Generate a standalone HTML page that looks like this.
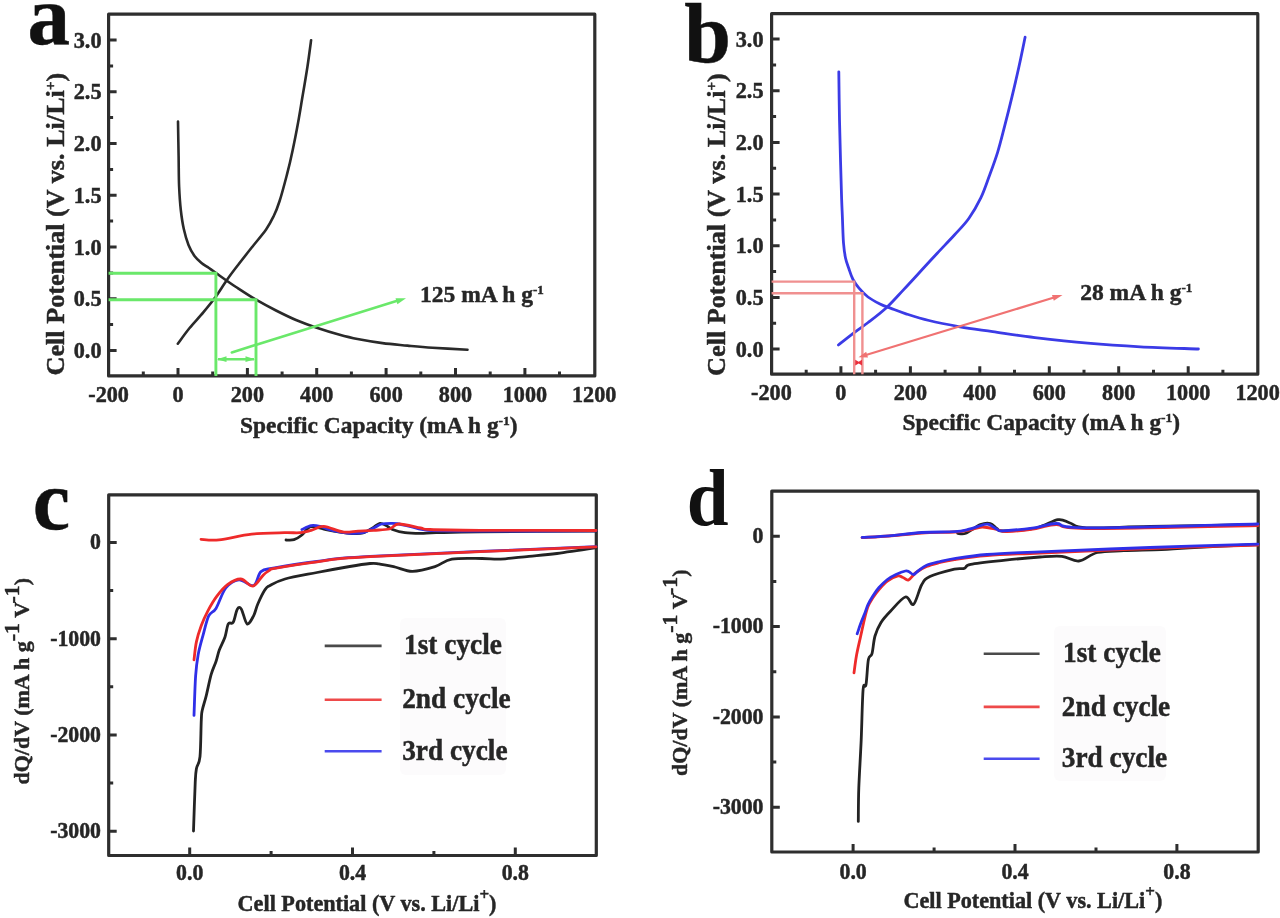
<!DOCTYPE html><html><head><meta charset="utf-8"><style>html,body{margin:0;padding:0;background:#fff;}svg{display:block;filter:blur(0.4px)}</style></head><body>
<svg width="1280" height="918" viewBox="0 0 1280 918">
<rect width="1280" height="918" fill="#fff"/>
<path d="M108.6,14.2 H594.8 V375.9 H108.6 Z" fill="none" stroke="#2e2e2e" stroke-width="3.2" stroke-linejoin="round"/>
<path d="M108.6,350.5 h8 M108.6,298.8 h8 M108.6,247.0 h8 M108.6,195.2 h8 M108.6,143.5 h8 M108.6,91.8 h8 M108.6,40.0 h8 M108.6,324.6 h4.5 M108.6,272.9 h4.5 M108.6,221.1 h4.5 M108.6,169.4 h4.5 M108.6,117.6 h4.5 M108.6,65.9 h4.5 " stroke="#2e2e2e" stroke-width="3"/>
<path d="M178.0,375.9 v-8 M247.4,375.9 v-8 M316.7,375.9 v-8 M386.1,375.9 v-8 M455.5,375.9 v-8 M524.9,375.9 v-8 M143.3,375.9 v-4.5 M212.7,375.9 v-4.5 M282.1,375.9 v-4.5 M351.4,375.9 v-4.5 M420.8,375.9 v-4.5 M490.2,375.9 v-4.5 M559.5,375.9 v-4.5 " stroke="#2e2e2e" stroke-width="3"/>
<text transform="translate(101.5,358.0) scale(1,1.06)" text-anchor="end" font-family="Liberation Serif" font-weight="bold" font-size="22.2" fill="#262626" stroke="#262626" stroke-width="0.45" >0.0</text>
<text transform="translate(101.5,306.2) scale(1,1.06)" text-anchor="end" font-family="Liberation Serif" font-weight="bold" font-size="22.2" fill="#262626" stroke="#262626" stroke-width="0.45" >0.5</text>
<text transform="translate(101.5,254.5) scale(1,1.06)" text-anchor="end" font-family="Liberation Serif" font-weight="bold" font-size="22.2" fill="#262626" stroke="#262626" stroke-width="0.45" >1.0</text>
<text transform="translate(101.5,202.8) scale(1,1.06)" text-anchor="end" font-family="Liberation Serif" font-weight="bold" font-size="22.2" fill="#262626" stroke="#262626" stroke-width="0.45" >1.5</text>
<text transform="translate(101.5,151.0) scale(1,1.06)" text-anchor="end" font-family="Liberation Serif" font-weight="bold" font-size="22.2" fill="#262626" stroke="#262626" stroke-width="0.45" >2.0</text>
<text transform="translate(101.5,99.2) scale(1,1.06)" text-anchor="end" font-family="Liberation Serif" font-weight="bold" font-size="22.2" fill="#262626" stroke="#262626" stroke-width="0.45" >2.5</text>
<text transform="translate(101.5,47.5) scale(1,1.06)" text-anchor="end" font-family="Liberation Serif" font-weight="bold" font-size="22.2" fill="#262626" stroke="#262626" stroke-width="0.45" >3.0</text>
<text transform="translate(108.6,401.5) scale(1,1.06)" text-anchor="middle" font-family="Liberation Serif" font-weight="bold" font-size="22.2" fill="#262626" stroke="#262626" stroke-width="0.45" >-200</text>
<text transform="translate(178.0,401.5) scale(1,1.06)" text-anchor="middle" font-family="Liberation Serif" font-weight="bold" font-size="22.2" fill="#262626" stroke="#262626" stroke-width="0.45" >0</text>
<text transform="translate(247.4,401.5) scale(1,1.06)" text-anchor="middle" font-family="Liberation Serif" font-weight="bold" font-size="22.2" fill="#262626" stroke="#262626" stroke-width="0.45" >200</text>
<text transform="translate(316.7,401.5) scale(1,1.06)" text-anchor="middle" font-family="Liberation Serif" font-weight="bold" font-size="22.2" fill="#262626" stroke="#262626" stroke-width="0.45" >400</text>
<text transform="translate(386.1,401.5) scale(1,1.06)" text-anchor="middle" font-family="Liberation Serif" font-weight="bold" font-size="22.2" fill="#262626" stroke="#262626" stroke-width="0.45" >600</text>
<text transform="translate(455.5,401.5) scale(1,1.06)" text-anchor="middle" font-family="Liberation Serif" font-weight="bold" font-size="22.2" fill="#262626" stroke="#262626" stroke-width="0.45" >800</text>
<text transform="translate(524.9,401.5) scale(1,1.06)" text-anchor="middle" font-family="Liberation Serif" font-weight="bold" font-size="22.2" fill="#262626" stroke="#262626" stroke-width="0.45" >1000</text>
<text transform="translate(594.2,401.5) scale(1,1.06)" text-anchor="middle" font-family="Liberation Serif" font-weight="bold" font-size="22.2" fill="#262626" stroke="#262626" stroke-width="0.45" >1200</text>
<text transform="translate(240.0,432.7) scale(1,1.0)" text-anchor="start" font-family="Liberation Serif" font-weight="bold" font-size="23.4" fill="#262626" stroke="#262626" stroke-width="0.45" >Specific Capacity (mA h g<tspan dy="-8" font-size="13.5">-1</tspan><tspan dy="8">)</tspan></text>
<g transform="translate(63.5,375.5) rotate(-90)"><text transform="translate(0.0,0.0) scale(1,1.0)" text-anchor="start" font-family="Liberation Serif" font-weight="bold" font-size="26.2" fill="#262626" stroke="#262626" stroke-width="0.45" >Cell Potential (V vs. Li/Li<tspan dy="-9" font-size="15">+</tspan><tspan dy="9">)</tspan></text></g>
<text transform="translate(27.5,43.8) scale(1,1.0)" text-anchor="start" font-family="Liberation Serif" font-weight="bold" font-size="85" fill="#111" stroke="#111" stroke-width="0.45" >a</text>
<path d="M178.0,121.5 C178.1,127.2 178.4,145.0 178.6,155.8 C178.8,166.6 178.7,177.3 179.1,186.3 C179.5,195.3 180.0,202.9 180.8,210.0 C181.6,217.1 182.5,223.2 183.8,229.0 C185.1,234.8 186.7,240.5 188.5,245.0 C190.3,249.5 192.3,253.0 194.5,256.0 C196.7,259.0 199.1,261.0 201.5,263.0 C203.9,265.0 206.6,266.3 209.0,268.0 C211.4,269.7 211.5,269.8 216.0,273.0 C220.5,276.2 229.3,282.6 236.0,287.0 C242.7,291.4 249.3,295.8 256.0,299.7 C262.7,303.6 269.3,307.1 276.0,310.5 C282.7,313.9 289.3,317.2 296.0,320.0 C302.7,322.8 308.9,325.1 316.0,327.5 C323.1,329.9 331.8,332.6 338.8,334.5 C345.7,336.4 350.2,337.6 357.5,339.0 C364.8,340.4 374.2,342.0 382.5,343.1 C390.8,344.2 399.2,344.8 407.5,345.6 C415.8,346.4 422.5,347.1 432.5,347.8 C442.5,348.4 461.7,349.4 467.5,349.8" fill="none" stroke="#2a2a2a" stroke-width="2.6" stroke-linecap="round"/>
<path d="M177.8,343.7 C179.8,341.1 185.3,333.2 189.6,328.0 C193.8,322.8 199.1,317.5 203.3,312.4 C207.6,307.3 211.2,303.0 215.1,297.6 C219.0,292.2 223.0,285.6 226.9,280.0 C230.8,274.4 234.3,269.9 238.6,264.3 C242.8,258.8 247.8,252.5 252.4,246.7 C257.0,240.9 262.6,234.5 266.1,229.5 C269.6,224.5 271.2,221.2 273.5,216.5 C275.8,211.8 277.4,208.0 279.6,201.0 C281.9,194.0 284.8,182.8 287.0,174.4 C289.2,166.0 290.8,159.0 292.6,150.4 C294.5,141.8 296.4,131.9 298.1,122.6 C299.8,113.3 301.2,104.1 302.8,94.8 C304.4,85.5 306.0,76.1 307.4,67.0 C308.8,57.9 310.5,44.7 311.1,40.2" fill="none" stroke="#2a2a2a" stroke-width="2.6" stroke-linecap="round"/>
<path d="M108.6,273.2 H215.9 V375.9 M108.6,299.7 H256 V375.9" fill="none" stroke="#6ae86a" stroke-width="2.9"/>
<path d="M218,359.2 H254" fill="none" stroke="#6ae86a" stroke-width="2.4"/>
<path d="M217,359.2 L226.5,356.3 L226.5,362.1 Z M255,359.2 L245.5,356.3 L245.5,362.1 Z" fill="#6ae86a"/>
<path d="M231.8,352.4 L398,300.5" fill="none" stroke="#6ae86a" stroke-width="2.6" stroke-linecap="round"/>
<path d="M406,298.3 L397.4,304.3 L395.5,298.2 Z" fill="#6ae86a"/>
<text transform="translate(420.0,302.0) scale(1,1.0)" text-anchor="start" font-family="Liberation Serif" font-weight="bold" font-size="23.5" fill="#262626" stroke="#262626" stroke-width="0.45" >125 mA h g<tspan dy="-8" font-size="13">-1</tspan></text>
<path d="M771.6,13.7 H1257.8 V374.2 H771.6 Z" fill="none" stroke="#2e2e2e" stroke-width="3.2" stroke-linejoin="round"/>
<path d="M771.6,349.0 h8 M771.6,297.4 h8 M771.6,245.7 h8 M771.6,194.1 h8 M771.6,142.4 h8 M771.6,90.8 h8 M771.6,39.1 h8 M771.6,323.2 h4.5 M771.6,271.5 h4.5 M771.6,219.9 h4.5 M771.6,168.2 h4.5 M771.6,116.6 h4.5 M771.6,64.9 h4.5 " stroke="#2e2e2e" stroke-width="3"/>
<path d="M840.9,374.2 v-8 M910.4,374.2 v-8 M979.8,374.2 v-8 M1049.3,374.2 v-8 M1118.7,374.2 v-8 M1188.2,374.2 v-8 M806.2,374.2 v-4.5 M875.6,374.2 v-4.5 M945.1,374.2 v-4.5 M1014.5,374.2 v-4.5 M1084.0,374.2 v-4.5 M1153.5,374.2 v-4.5 M1222.9,374.2 v-4.5 " stroke="#2e2e2e" stroke-width="3"/>
<text transform="translate(763.5,356.5) scale(1,1.06)" text-anchor="end" font-family="Liberation Serif" font-weight="bold" font-size="22.2" fill="#262626" stroke="#262626" stroke-width="0.45" >0.0</text>
<text transform="translate(763.5,304.9) scale(1,1.06)" text-anchor="end" font-family="Liberation Serif" font-weight="bold" font-size="22.2" fill="#262626" stroke="#262626" stroke-width="0.45" >0.5</text>
<text transform="translate(763.5,253.2) scale(1,1.06)" text-anchor="end" font-family="Liberation Serif" font-weight="bold" font-size="22.2" fill="#262626" stroke="#262626" stroke-width="0.45" >1.0</text>
<text transform="translate(763.5,201.6) scale(1,1.06)" text-anchor="end" font-family="Liberation Serif" font-weight="bold" font-size="22.2" fill="#262626" stroke="#262626" stroke-width="0.45" >1.5</text>
<text transform="translate(763.5,149.9) scale(1,1.06)" text-anchor="end" font-family="Liberation Serif" font-weight="bold" font-size="22.2" fill="#262626" stroke="#262626" stroke-width="0.45" >2.0</text>
<text transform="translate(763.5,98.2) scale(1,1.06)" text-anchor="end" font-family="Liberation Serif" font-weight="bold" font-size="22.2" fill="#262626" stroke="#262626" stroke-width="0.45" >2.5</text>
<text transform="translate(763.5,46.6) scale(1,1.06)" text-anchor="end" font-family="Liberation Serif" font-weight="bold" font-size="22.2" fill="#262626" stroke="#262626" stroke-width="0.45" >3.0</text>
<text transform="translate(771.4,400.0) scale(1,1.06)" text-anchor="middle" font-family="Liberation Serif" font-weight="bold" font-size="22.2" fill="#262626" stroke="#262626" stroke-width="0.45" >-200</text>
<text transform="translate(840.9,400.0) scale(1,1.06)" text-anchor="middle" font-family="Liberation Serif" font-weight="bold" font-size="22.2" fill="#262626" stroke="#262626" stroke-width="0.45" >0</text>
<text transform="translate(910.4,400.0) scale(1,1.06)" text-anchor="middle" font-family="Liberation Serif" font-weight="bold" font-size="22.2" fill="#262626" stroke="#262626" stroke-width="0.45" >200</text>
<text transform="translate(979.8,400.0) scale(1,1.06)" text-anchor="middle" font-family="Liberation Serif" font-weight="bold" font-size="22.2" fill="#262626" stroke="#262626" stroke-width="0.45" >400</text>
<text transform="translate(1049.3,400.0) scale(1,1.06)" text-anchor="middle" font-family="Liberation Serif" font-weight="bold" font-size="22.2" fill="#262626" stroke="#262626" stroke-width="0.45" >600</text>
<text transform="translate(1118.7,400.0) scale(1,1.06)" text-anchor="middle" font-family="Liberation Serif" font-weight="bold" font-size="22.2" fill="#262626" stroke="#262626" stroke-width="0.45" >800</text>
<text transform="translate(1188.2,400.0) scale(1,1.06)" text-anchor="middle" font-family="Liberation Serif" font-weight="bold" font-size="22.2" fill="#262626" stroke="#262626" stroke-width="0.45" >1000</text>
<text transform="translate(1257.6,400.0) scale(1,1.06)" text-anchor="middle" font-family="Liberation Serif" font-weight="bold" font-size="22.2" fill="#262626" stroke="#262626" stroke-width="0.45" >1200</text>
<text transform="translate(902.5,430.0) scale(1,1.0)" text-anchor="start" font-family="Liberation Serif" font-weight="bold" font-size="23.4" fill="#262626" stroke="#262626" stroke-width="0.45" >Specific Capacity (mA h g<tspan dy="-8" font-size="13.5">-1</tspan><tspan dy="8">)</tspan></text>
<g transform="translate(725,375.9) rotate(-90)"><text transform="translate(0.0,0.0) scale(1,1.0)" text-anchor="start" font-family="Liberation Serif" font-weight="bold" font-size="26.2" fill="#262626" stroke="#262626" stroke-width="0.45" >Cell Potential (V vs. Li/Li<tspan dy="-9" font-size="15">+</tspan><tspan dy="9">)</tspan></text></g>
<text transform="translate(684.2,61.5) scale(1,1.0)" text-anchor="start" font-family="Liberation Serif" font-weight="bold" font-size="84" fill="#111" stroke="#111" stroke-width="0.45" >b</text>
<path d="M838.8,71.8 C838.9,79.8 839.2,105.3 839.5,120.0 C839.8,134.7 840.2,147.5 840.5,160.0 C840.8,172.5 841.2,185.0 841.5,195.0 C841.8,205.0 842.2,212.0 842.5,220.0 C842.8,228.0 843.0,236.7 843.5,243.0 C844.0,249.3 844.6,253.7 845.5,258.0 C846.4,262.3 847.8,265.4 849.0,269.0 C850.2,272.6 851.3,276.3 853.0,279.5 C854.7,282.7 856.5,285.3 859.0,288.2 C861.5,291.1 864.5,294.4 868.0,297.0 C871.5,299.6 876.2,302.1 880.0,304.0 C883.8,305.9 886.7,306.8 891.0,308.4 C895.3,310.0 899.7,311.8 906.0,313.8 C912.3,315.8 920.0,318.3 929.0,320.5 C938.0,322.7 949.4,324.9 960.0,326.8 C970.6,328.7 980.2,329.8 992.7,331.6 C1005.2,333.4 1019.1,335.7 1034.9,337.6 C1050.7,339.5 1070.1,341.7 1087.7,343.2 C1105.3,344.7 1122.0,345.8 1140.4,346.8 C1158.9,347.8 1188.7,348.6 1198.4,349.0" fill="none" stroke="#3b3be6" stroke-width="2.8" stroke-linecap="round"/>
<path d="M838.4,345.0 C840.8,343.1 847.9,337.4 852.9,333.6 C857.9,329.9 862.5,326.8 868.1,322.5 C873.7,318.2 880.5,313.1 886.4,307.7 C892.2,302.3 897.4,296.3 903.2,290.1 C909.1,283.9 915.9,276.4 921.5,270.3 C927.1,264.2 931.5,259.4 937.0,253.5 C942.5,247.6 949.1,240.8 954.4,235.0 C959.7,229.2 964.4,224.7 968.8,218.5 C973.2,212.3 977.4,204.9 980.8,197.9 C984.2,190.9 986.4,183.9 989.2,176.3 C992.0,168.7 995.0,160.7 997.6,152.3 C1000.2,143.9 1002.3,135.1 1004.7,125.9 C1007.1,116.7 1009.5,107.1 1011.9,97.1 C1014.3,87.1 1016.9,76.0 1019.1,66.0 C1021.3,56.0 1024.1,42.0 1025.1,37.2" fill="none" stroke="#3b3be6" stroke-width="2.8" stroke-linecap="round"/>
<path d="M771.6,281.6 H854.2 V374.2 M771.6,293.2 H862.4 V374.2" fill="none" stroke="#f09090" stroke-width="2.4"/>
<path d="M855.2,359.8 L858.7,361.8 L862,359.8 L862,365.6 L858.7,363.6 L855.2,365.6 Z" fill="#ea2f3c"/>
<path d="M866,355 L1054,297.5" fill="none" stroke="#f07272" stroke-width="2.2"/>
<path d="M1062.5,294.9 L1053.8,300.7 L1052.0,294.9 Z" fill="#f07272"/>
<path d="M858.5,357.3 L868,357.6 L866.2,351.8 Z" fill="#f07272"/>
<text transform="translate(1080.2,300.2) scale(1,1.0)" text-anchor="start" font-family="Liberation Serif" font-weight="bold" font-size="23.5" fill="#262626" stroke="#262626" stroke-width="0.45" >28 mA h g<tspan dy="-8" font-size="13">-1</tspan></text>
<path d="M108.7,494.8 H596.3 V855.5 H108.7 Z" fill="none" stroke="#2e2e2e" stroke-width="3.2" stroke-linejoin="round"/>
<path d="M108.7,542.4 h8 M108.7,638.7 h8 M108.7,735.0 h8 M108.7,831.2 h8 M108.7,590.5 h4.5 M108.7,686.8 h4.5 M108.7,783.1 h4.5 " stroke="#2e2e2e" stroke-width="3"/>
<path d="M189.7,855.5 v-8 M352.5,855.5 v-8 M515.3,855.5 v-8 M271.1,855.5 v-4.5 M433.9,855.5 v-4.5 " stroke="#2e2e2e" stroke-width="3"/>
<text transform="translate(101.0,549.2) scale(1,1.06)" text-anchor="end" font-family="Liberation Serif" font-weight="bold" font-size="21.8" fill="#262626" stroke="#262626" stroke-width="0.45" >0</text>
<text transform="translate(101.0,645.5) scale(1,1.06)" text-anchor="end" font-family="Liberation Serif" font-weight="bold" font-size="21.8" fill="#262626" stroke="#262626" stroke-width="0.45" >-1000</text>
<text transform="translate(101.0,741.8) scale(1,1.06)" text-anchor="end" font-family="Liberation Serif" font-weight="bold" font-size="21.8" fill="#262626" stroke="#262626" stroke-width="0.45" >-2000</text>
<text transform="translate(101.0,838.0) scale(1,1.06)" text-anchor="end" font-family="Liberation Serif" font-weight="bold" font-size="21.8" fill="#262626" stroke="#262626" stroke-width="0.45" >-3000</text>
<text transform="translate(189.7,879.7) scale(1,1.06)" text-anchor="middle" font-family="Liberation Serif" font-weight="bold" font-size="21.8" fill="#262626" stroke="#262626" stroke-width="0.45" >0.0</text>
<text transform="translate(352.5,879.7) scale(1,1.06)" text-anchor="middle" font-family="Liberation Serif" font-weight="bold" font-size="21.8" fill="#262626" stroke="#262626" stroke-width="0.45" >0.4</text>
<text transform="translate(515.3,879.7) scale(1,1.06)" text-anchor="middle" font-family="Liberation Serif" font-weight="bold" font-size="21.8" fill="#262626" stroke="#262626" stroke-width="0.45" >0.8</text>
<text transform="translate(237.6,911.0) scale(1,1.0)" text-anchor="start" font-family="Liberation Serif" font-weight="bold" font-size="22.2" fill="#262626" stroke="#262626" stroke-width="0.45" >Cell Potential (V vs. Li/Li<tspan dy="-11" font-size="17">+</tspan><tspan dy="11">)</tspan></text>
<g transform="translate(28.5,784.5) rotate(-90)"><text transform="translate(0.0,0.0) scale(1,1.0)" text-anchor="start" font-family="Liberation Serif" font-weight="bold" font-size="22" fill="#262626" stroke="#262626" stroke-width="0.45" >dQ/dV (mA h g<tspan dy="-10" font-size="22">-1</tspan><tspan dy="10"> V</tspan><tspan dy="-10" font-size="22">-1</tspan><tspan dy="10">)</tspan></text></g>
<text transform="translate(32.7,529.0) scale(1,1.0)" text-anchor="start" font-family="Liberation Serif" font-weight="bold" font-size="84" fill="#111" stroke="#111" stroke-width="0.45" >c</text>
<path d="M193.5,831.0 C193.8,823.0 194.7,793.4 195.2,783.0 C195.7,772.6 195.6,773.1 196.4,768.7 C197.2,764.3 199.2,764.8 200.0,756.7 C200.8,748.6 200.9,727.7 201.3,720.0 C201.7,712.3 201.4,714.5 202.2,710.5 C203.0,706.5 204.7,701.8 206.2,695.8 C207.7,689.8 209.5,680.3 211.1,674.6 C212.7,668.9 214.6,665.6 216.0,661.5 C217.4,657.4 217.8,654.2 219.3,650.1 C220.8,646.0 223.5,641.4 225.0,637.0 C226.5,632.6 226.9,626.4 228.3,623.9 C229.7,621.4 231.7,624.8 233.2,622.3 C234.7,619.8 235.9,611.4 237.3,609.2 C238.7,607.0 239.8,606.8 241.4,609.2 C243.0,611.7 245.1,622.8 247.1,623.9 C249.1,625.0 251.8,619.1 253.6,615.8 C255.4,612.5 255.8,608.7 257.7,604.3 C259.6,599.9 263.1,592.7 265.1,589.6 C267.2,586.5 266.7,587.3 270.0,585.5 C273.3,583.7 277.2,581.2 285.0,579.0 C292.8,576.8 306.2,574.6 317.0,572.5 C327.8,570.4 340.9,568.0 349.7,566.5 C358.5,565.0 365.1,564.0 370.0,563.5 C374.9,563.0 374.6,563.2 378.8,563.8 C383.0,564.4 389.4,565.8 395.0,567.0 C400.6,568.2 405.8,571.4 412.5,571.3 C419.2,571.2 428.4,568.6 435.0,566.6 C441.6,564.6 444.1,560.5 451.9,559.1 C459.7,557.8 473.9,558.5 482.0,558.5 C490.1,558.5 492.9,559.5 500.7,559.1 C508.5,558.7 519.5,557.2 528.9,556.3 C538.3,555.4 545.8,554.9 557.0,553.5 C568.2,552.1 589.5,548.8 596.0,547.8" fill="none" stroke="#232323" stroke-width="2.8" stroke-linejoin="round" stroke-linecap="round"/>
<path d="M286.0,540.0 C287.3,540.0 291.4,540.5 294.0,539.7 C296.6,538.9 299.3,537.1 301.9,535.0 C304.5,532.9 307.0,528.2 309.7,527.0 C312.4,525.8 315.3,527.1 318.0,527.5 C320.7,527.9 322.3,528.8 326.0,529.5 C329.7,530.2 335.7,531.3 340.0,532.0 C344.3,532.7 348.2,533.3 352.0,533.5 C355.8,533.7 359.4,534.0 363.0,533.0 C366.6,532.0 370.9,528.8 373.8,527.2 C376.6,525.6 377.9,523.6 380.0,523.3 C382.1,523.0 384.2,524.6 386.2,525.6 C388.3,526.6 389.4,528.3 392.5,529.5 C395.6,530.7 400.3,532.1 405.0,532.7 C409.7,533.4 415.4,533.4 420.6,533.4 C425.8,533.4 426.4,533.0 436.2,532.7 C446.1,532.5 453.4,532.2 480.0,531.9 C506.6,531.6 576.7,531.1 596.0,531.0" fill="none" stroke="#232323" stroke-width="2.8" stroke-linejoin="round" stroke-linecap="round"/>
<path d="M194.0,715.4 C194.3,708.9 194.9,686.3 195.6,676.2 C196.3,666.1 196.9,661.8 198.1,655.0 C199.3,648.2 201.2,641.9 203.0,635.4 C204.8,628.9 206.5,620.3 208.7,615.8 C210.9,611.3 213.2,613.0 216.0,608.4 C218.8,603.8 222.0,592.8 225.8,588.0 C229.6,583.2 234.3,580.2 238.9,579.8 C243.5,579.4 249.9,586.9 253.6,585.5 C257.3,584.1 257.5,574.5 261.0,571.6 C264.5,568.7 265.3,569.7 274.6,568.0 C283.9,566.3 301.1,563.4 317.0,561.5 C332.9,559.6 323.5,558.9 370.0,556.4 C416.5,553.9 558.3,548.2 596.0,546.6" fill="none" stroke="#2f2fe8" stroke-width="2.8" stroke-linejoin="round" stroke-linecap="round"/>
<path d="M301.9,529.5 C303.5,528.9 308.1,526.1 311.2,525.6 C314.4,525.1 318.0,525.9 320.6,526.4 C323.2,526.9 323.8,527.8 326.9,528.8 C330.0,529.7 335.5,531.1 339.4,531.9 C343.3,532.7 346.4,533.3 350.3,533.4 C354.2,533.5 358.9,533.6 362.8,532.7 C366.7,531.8 370.6,529.5 373.8,528.0 C376.9,526.5 378.5,524.8 381.6,524.0 C384.7,523.2 389.6,523.3 392.5,523.3 C395.4,523.3 395.4,523.4 398.8,524.0 C402.1,524.6 407.9,526.2 412.8,527.2 C417.7,528.2 417.2,529.6 428.4,530.3 C439.6,530.9 452.1,531.0 480.0,531.1 C507.9,531.2 576.7,530.8 596.0,530.8" fill="none" stroke="#2f2fe8" stroke-width="2.8" stroke-linejoin="round" stroke-linecap="round"/>
<path d="M194.0,659.9 C194.4,656.9 195.2,647.6 196.4,641.9 C197.6,636.2 199.4,630.8 201.3,625.6 C203.2,620.4 205.3,615.7 207.9,610.8 C210.5,605.9 213.6,600.5 216.9,596.1 C220.2,591.8 223.6,587.6 227.5,584.7 C231.4,581.9 236.8,578.9 240.6,579.0 C244.4,579.1 247.9,584.5 250.4,585.5 C252.9,586.5 253.1,586.5 255.3,584.7 C257.5,582.9 260.9,577.4 263.4,574.9 C265.8,572.4 268.1,571.1 270.0,570.0 C271.9,568.9 266.8,569.8 274.6,568.4 C282.4,567.0 301.1,563.8 317.0,561.9 C332.9,560.0 323.5,559.2 370.0,556.7 C416.5,554.2 558.3,548.5 596.0,546.9" fill="none" stroke="#ee2a2a" stroke-width="2.8" stroke-linejoin="round" stroke-linecap="round"/>
<path d="M201.0,539.3 C204.0,539.4 210.6,540.7 219.0,539.8 C227.4,538.9 240.8,535.3 251.7,534.1 C262.6,532.9 276.3,532.9 284.4,532.7 C292.5,532.5 295.8,533.1 300.3,532.7 C304.8,532.3 307.3,531.3 311.2,530.3 C315.2,529.2 318.5,526.1 323.8,526.4 C329.0,526.7 336.8,531.1 342.5,531.9 C348.2,532.7 352.9,531.4 358.1,531.1 C363.3,530.8 368.5,530.6 373.8,530.3 C379.0,529.9 385.2,530.0 389.4,529.0 C393.6,528.0 393.6,524.2 398.8,524.0 C403.9,523.8 415.4,527.1 420.6,528.0 C425.8,528.9 420.1,529.1 430.0,529.5 C439.9,529.9 452.3,530.1 480.0,530.3 C507.7,530.5 576.7,530.5 596.0,530.5" fill="none" stroke="#ee2a2a" stroke-width="2.8" stroke-linejoin="round" stroke-linecap="round"/>
<rect x="400" y="618" width="106" height="157" rx="6" fill="#fcfbfc"/>
<path d="M324.7,645.9 H381.6" stroke="#4a4a4a" stroke-width="2.6"/>
<path d="M324.7,699.8 H381.6" stroke="#ee4a4a" stroke-width="2.6"/>
<path d="M324.7,751.2 H381.6" stroke="#4a4aee" stroke-width="2.6"/>
<text transform="translate(404.1,654.1) scale(1,1.06)" text-anchor="start" font-family="Liberation Serif" font-weight="bold" font-size="27.3" fill="#262626" stroke="#262626" stroke-width="0.45" >1st cycle</text>
<text transform="translate(402.2,708.0) scale(1,1.06)" text-anchor="start" font-family="Liberation Serif" font-weight="bold" font-size="27.3" fill="#262626" stroke="#262626" stroke-width="0.45" >2nd cycle</text>
<text transform="translate(402.2,760.0) scale(1,1.06)" text-anchor="start" font-family="Liberation Serif" font-weight="bold" font-size="27.3" fill="#262626" stroke="#262626" stroke-width="0.45" >3rd cycle</text>
<path d="M771.8,491.1 H1258.2 V852.0 H771.8 Z" fill="none" stroke="#2e2e2e" stroke-width="3.2" stroke-linejoin="round"/>
<path d="M771.8,536.2 h8 M771.8,626.6 h8 M771.8,716.9 h8 M771.8,807.3 h8 M771.8,581.4 h4.5 M771.8,671.8 h4.5 M771.8,762.1 h4.5 " stroke="#2e2e2e" stroke-width="3"/>
<path d="M853.1,852.0 v-8 M1015.0,852.0 v-8 M1176.9,852.0 v-8 M934.1,852.0 v-4.5 M1096.0,852.0 v-4.5 " stroke="#2e2e2e" stroke-width="3"/>
<text transform="translate(763.5,543.0) scale(1,1.06)" text-anchor="end" font-family="Liberation Serif" font-weight="bold" font-size="21.8" fill="#262626" stroke="#262626" stroke-width="0.45" >0</text>
<text transform="translate(763.5,633.4) scale(1,1.06)" text-anchor="end" font-family="Liberation Serif" font-weight="bold" font-size="21.8" fill="#262626" stroke="#262626" stroke-width="0.45" >-1000</text>
<text transform="translate(763.5,723.7) scale(1,1.06)" text-anchor="end" font-family="Liberation Serif" font-weight="bold" font-size="21.8" fill="#262626" stroke="#262626" stroke-width="0.45" >-2000</text>
<text transform="translate(763.5,814.1) scale(1,1.06)" text-anchor="end" font-family="Liberation Serif" font-weight="bold" font-size="21.8" fill="#262626" stroke="#262626" stroke-width="0.45" >-3000</text>
<text transform="translate(853.1,878.5) scale(1,1.06)" text-anchor="middle" font-family="Liberation Serif" font-weight="bold" font-size="21.8" fill="#262626" stroke="#262626" stroke-width="0.45" >0.0</text>
<text transform="translate(1015.0,878.5) scale(1,1.06)" text-anchor="middle" font-family="Liberation Serif" font-weight="bold" font-size="21.8" fill="#262626" stroke="#262626" stroke-width="0.45" >0.4</text>
<text transform="translate(1176.9,878.5) scale(1,1.06)" text-anchor="middle" font-family="Liberation Serif" font-weight="bold" font-size="21.8" fill="#262626" stroke="#262626" stroke-width="0.45" >0.8</text>
<text transform="translate(903.4,907.5) scale(1,1.0)" text-anchor="start" font-family="Liberation Serif" font-weight="bold" font-size="22.2" fill="#262626" stroke="#262626" stroke-width="0.45" >Cell Potential (V vs. Li/Li<tspan dy="-11" font-size="17">+</tspan><tspan dy="11">)</tspan></text>
<g transform="translate(686.5,776) rotate(-90)"><text transform="translate(0.0,0.0) scale(1,1.0)" text-anchor="start" font-family="Liberation Serif" font-weight="bold" font-size="22" fill="#262626" stroke="#262626" stroke-width="0.45" >dQ/dV (mA h g<tspan dy="-10" font-size="22">-1</tspan><tspan dy="10"> V</tspan><tspan dy="-10" font-size="22">-1</tspan><tspan dy="10">)</tspan></text></g>
<text transform="translate(686.8,524.8) scale(0.94,1)" font-family="Liberation Serif" font-weight="bold" font-size="80" fill="#111">d</text>
<path d="M858.3,821.4 C858.4,815.8 858.3,801.5 858.8,787.9 C859.3,774.3 860.5,756.3 861.2,739.9 C861.9,723.5 862.3,698.7 863.1,689.5 C863.9,680.3 865.1,689.7 866.0,684.7 C866.9,679.7 867.4,664.8 868.4,659.6 C869.4,654.4 870.9,657.5 872.0,653.6 C873.1,649.7 873.5,641.2 875.0,636.0 C876.5,630.8 878.4,626.6 881.0,622.4 C883.6,618.2 886.6,615.1 890.7,610.9 C894.8,606.7 901.6,598.1 905.4,597.0 C909.2,595.9 910.8,606.4 913.5,604.4 C916.2,602.4 919.0,589.4 921.7,584.8 C924.4,580.2 924.5,579.2 929.9,576.6 C935.3,574.0 948.7,570.6 954.4,569.2 C960.1,567.8 961.5,569.2 964.2,568.4 C966.9,567.6 964.2,565.6 970.7,564.3 C977.2,562.9 991.9,561.5 1003.4,560.3 C1014.9,559.1 1030.2,557.7 1040.0,557.0 C1049.8,556.3 1055.4,555.6 1061.9,556.3 C1068.4,557.0 1072.9,561.6 1078.8,561.0 C1084.7,560.4 1090.0,554.2 1097.5,552.5 C1105.0,550.8 1113.2,551.2 1123.8,550.7 C1134.4,550.2 1150.3,550.2 1161.3,549.7 C1172.2,549.2 1173.4,548.7 1189.5,547.8 C1205.6,546.9 1246.6,545.0 1258.0,544.5" fill="none" stroke="#232323" stroke-width="2.8" stroke-linejoin="round" stroke-linecap="round"/>
<path d="M957.6,533.3 C959.0,533.3 962.0,534.8 965.8,533.3 C969.6,531.8 976.4,526.2 980.5,524.6 C984.6,523.0 987.6,522.9 990.3,523.5 C993.0,524.1 994.8,527.1 996.9,528.4 C999.0,529.6 996.5,531.1 1003.0,531.0 C1009.5,530.9 1026.8,529.9 1036.0,528.0 C1045.2,526.1 1052.4,520.5 1058.1,519.7 C1063.8,518.9 1065.3,521.6 1070.0,523.0 C1074.7,524.4 1073.0,527.2 1086.3,527.8 C1099.6,528.4 1121.4,527.0 1150.0,526.5 C1178.6,526.0 1240.0,524.8 1258.0,524.5" fill="none" stroke="#232323" stroke-width="2.8" stroke-linejoin="round" stroke-linecap="round"/>
<path d="M854.0,672.8 C854.4,670.0 855.4,661.6 856.4,656.0 C857.4,650.4 858.6,645.4 860.0,639.2 C861.4,633.0 863.2,624.5 864.5,619.0 C865.8,613.5 866.6,610.0 868.0,606.5 C869.4,603.0 870.9,600.8 872.7,598.0 C874.5,595.2 876.5,592.3 879.0,589.5 C881.5,586.7 884.2,583.2 887.4,581.0 C890.6,578.8 895.4,576.6 898.0,576.0 C900.6,575.4 901.2,576.9 903.0,577.5 C904.8,578.1 906.4,580.7 908.6,579.9 C910.8,579.1 913.0,574.7 916.0,572.5 C919.0,570.3 922.6,568.2 926.6,566.5 C930.6,564.8 935.4,563.7 940.0,562.5 C944.6,561.3 946.6,560.7 954.4,559.5 C962.2,558.3 972.7,556.6 987.0,555.5 C1001.3,554.4 1012.8,554.2 1040.0,553.0 C1067.2,551.8 1113.7,549.8 1150.0,548.5 C1186.3,547.2 1240.0,545.6 1258.0,545.0" fill="none" stroke="#ee2a2a" stroke-width="2.8" stroke-linejoin="round" stroke-linecap="round"/>
<path d="M862.1,537.6 C866.6,537.3 879.1,536.8 889.0,536.0 C898.9,535.2 910.8,533.7 921.7,533.0 C932.6,532.3 946.5,532.5 954.4,532.0 C962.3,531.5 964.5,530.8 969.1,530.0 C973.7,529.2 977.6,527.1 982.2,527.0 C986.8,526.9 992.8,528.7 996.9,529.5 C1001.0,530.3 1000.2,531.9 1006.7,531.7 C1013.2,531.5 1027.7,529.7 1036.0,528.5 C1044.3,527.3 1047.9,524.5 1056.3,524.5 C1064.7,524.5 1052.7,528.3 1086.3,528.5 C1119.9,528.7 1229.4,526.0 1258.0,525.5" fill="none" stroke="#ee2a2a" stroke-width="2.8" stroke-linejoin="round" stroke-linecap="round"/>
<path d="M857.2,633.8 C857.8,632.2 859.3,627.3 860.5,624.0 C861.7,620.7 863.2,617.2 864.5,614.0 C865.8,610.8 866.6,607.5 868.0,604.5 C869.4,601.5 870.9,599.0 872.7,596.2 C874.5,593.4 876.5,590.3 879.0,587.5 C881.5,584.7 884.6,581.7 887.4,579.5 C890.2,577.3 893.0,575.9 896.0,574.5 C899.0,573.1 903.2,571.5 905.4,571.0 C907.6,570.5 907.6,571.2 909.0,571.8 C910.4,572.4 912.0,574.6 913.5,574.5 C915.0,574.4 915.8,572.5 918.0,571.0 C920.2,569.5 922.9,566.8 926.6,565.2 C930.3,563.6 935.4,562.6 940.0,561.5 C944.6,560.4 946.6,559.8 954.4,558.6 C962.2,557.4 972.7,555.6 987.0,554.5 C1001.3,553.4 1012.8,553.0 1040.0,551.8 C1067.2,550.6 1113.7,548.8 1150.0,547.5 C1186.3,546.2 1240.0,544.7 1258.0,544.1" fill="none" stroke="#2f2fe8" stroke-width="2.8" stroke-linejoin="round" stroke-linecap="round"/>
<path d="M862.1,537.4 C866.6,537.1 879.1,536.6 889.0,535.8 C898.9,535.0 910.8,533.2 921.7,532.5 C932.6,531.8 946.5,532.2 954.4,531.7 C962.3,531.2 964.5,530.3 969.1,529.2 C973.7,528.1 978.9,525.9 982.2,525.1 C985.5,524.3 986.2,523.6 988.7,524.3 C991.2,525.0 994.5,528.1 996.9,529.2 C999.3,530.3 996.9,531.1 1003.4,530.8 C1009.9,530.5 1027.2,528.8 1036.0,527.6 C1044.8,526.4 1047.9,523.5 1056.3,523.5 C1064.7,523.5 1052.7,527.7 1086.3,527.8 C1119.9,527.9 1229.4,524.6 1258.0,524.0" fill="none" stroke="#2f2fe8" stroke-width="2.8" stroke-linejoin="round" stroke-linecap="round"/>
<rect x="1054" y="626" width="112" height="155" rx="6" fill="#fcfbfc"/>
<path d="M983.7,653.7 H1039.6" stroke="#4a4a4a" stroke-width="2.6"/>
<path d="M983.7,706.9 H1039.6" stroke="#ee4a4a" stroke-width="2.6"/>
<path d="M983.7,758.8 H1039.6" stroke="#4a4aee" stroke-width="2.6"/>
<text transform="translate(1063.1,661.6) scale(1,1.06)" text-anchor="start" font-family="Liberation Serif" font-weight="bold" font-size="27.3" fill="#262626" stroke="#262626" stroke-width="0.45" >1st cycle</text>
<text transform="translate(1061.8,716.0) scale(1,1.06)" text-anchor="start" font-family="Liberation Serif" font-weight="bold" font-size="27.3" fill="#262626" stroke="#262626" stroke-width="0.45" >2nd cycle</text>
<text transform="translate(1061.8,767.0) scale(1,1.06)" text-anchor="start" font-family="Liberation Serif" font-weight="bold" font-size="27.3" fill="#262626" stroke="#262626" stroke-width="0.45" >3rd cycle</text>
</svg></body></html>
